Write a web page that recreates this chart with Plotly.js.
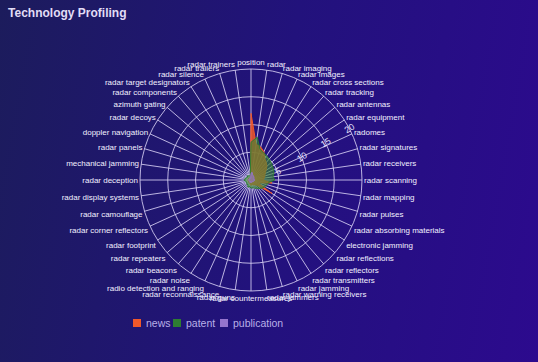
<!DOCTYPE html>
<html>
<head>
<meta charset="utf-8">
<script src="https://cdn.plot.ly/plotly-3.0.1.min.js"></script>
<style>
  html, body { margin: 0; padding: 0; }
  body { width: 538px; height: 362px; overflow: hidden;
         background: linear-gradient(100deg, #1c1c5c 0%, #22127c 50%, #2c0a8e 100%); }
  #chart { width: 538px; height: 362px; }
</style>
</head>
<body>
<div id="chart"></div>
<script>
const categories = [
  "position", "radar", "radar imaging", "radar images", "radar cross sections",
  "radar tracking", "radar antennas", "radar equipment", "radomes", "radar signatures",
  "radar receivers", "radar scanning", "radar mapping", "radar pulses",
  "radar absorbing materials", "electronic jamming", "radar reflections",
  "radar reflectors", "radar transmitters", "radar jamming", "radar warning receivers",
  "radar jammers", "radar countermeasures", "radar guns", "radar reconnaissance",
  "radio detection and ranging", "radar noise", "radar beacons", "radar repeaters",
  "radar footprint", "radar corner reflectors", "radar camouflage",
  "radar display systems", "radar deception", "mechanical jamming", "radar panels",
  "doppler navigation", "radar decoys", "azimuth gating", "radar components",
  "radar target designators", "radar silence", "radar trailers", "radar trainers"
];

const newsValues = [
  12, 6.5, 6.2, 5.6, 4.6, 4.2, 3.8, 3.2, 2.8, 2.6, 2.4, 2.2, 3.8, 1.8, 1.6, 4.5,
  1.4, 1.2, 1.0, 1.0, 0.8, 0.8, 1.0, 0.6, 0.7, 0.6, 0.5, 0.6, 0.5, 0.4, 0.5,
  0.4, 0.5, 0.6, 0.5, 0.5, 0.4, 0.5, 0.4, 0.5, 0.4, 0.4, 0.3, 0.4
];

const patentValues = [
  6.8, 7.8, 5.8, 5.4, 5.2, 5.0, 4.8, 4.6, 4.5, 4.3, 4.0, 4.3, 3.2, 3.0, 2.8, 2.6,
  2.3, 2.0, 1.8, 1.6, 1.5, 1.4, 1.5, 1.2, 1.3, 1.4, 1.0, 1.1, 1.0, 0.9, 1.0,
  0.9, 1.1, 1.3, 1.0, 1.1, 0.9, 0.9, 0.8, 1.0, 0.9, 0.8, 0.8, 0.9
];

const publicationValues = [
  1.2, 1.4, 1.0, 0.9, 0.8, 0.8, 0.7, 0.6, 0.6, 0.6, 0.5, 0.7, 0.6, 0.5, 0.5, 0.5,
  0.5, 0.4, 0.4, 0.4, 0.4, 0.4, 0.5, 0.3, 0.4, 0.5, 0.3, 0.4, 0.3, 0.3, 0.3,
  0.3, 0.4, 0.5, 0.4, 0.4, 0.3, 0.3, 0.3, 0.4, 0.3, 0.3, 0.3, 0.3
];

const seriesNames = ["news", "patent", "publication"];
const radialTicks = [5, 10, 15, 20];

const seriesColors = ["#f0582a", "#2e7d32", "#9575cd"];
const fillColors = ["rgba(240,88,42,0.85)", "rgba(58,138,50,0.6)", "rgba(149,117,205,0.6)"];
const seriesData = [newsValues, patentValues, publicationValues];

// closed polygons (radar-style areas)
const thetaClosed = categories.concat([categories[0]]);
const traces = seriesData.map((vals, i) => ({
  type: "scatterpolar",
  name: seriesNames[i],
  r: vals.concat([vals[0]]),
  theta: thetaClosed,
  mode: "lines",
  fill: "toself",
  fillcolor: fillColors[i],
  line: { color: seriesColors[i], width: 1 },
  showlegend: false,
  hoverinfo: "skip"
}));

// legend drawn as small squares + labels under the chart
// plot area: x 140..362, y 69..291 (222 px square)
const pxX = px => (px - 140) / 222;
const pxY = py => (291 - py) / 222;
const legendSquareX = [133, 173, 220];
const legendShapes = seriesNames.map((n, i) => ({
  type: "rect", xref: "paper", yref: "paper",
  x0: pxX(legendSquareX[i]), x1: pxX(legendSquareX[i] + 8),
  y0: pxY(327), y1: pxY(319),
  fillcolor: seriesColors[i], line: { width: 0 }
}));
const legendAnnotations = seriesNames.map((n, i) => ({
  text: n, xref: "paper", yref: "paper",
  x: pxX(legendSquareX[i] + 11), y: pxY(323),
  xanchor: "left", yanchor: "middle", showarrow: false,
  font: { size: 10.5, color: "#b8b0e8" }
}));

const gridCol = "rgba(215,208,245,0.85)";

const layout = {
  width: 538, height: 362,
  paper_bgcolor: "rgba(0,0,0,0)",
  plot_bgcolor: "rgba(0,0,0,0)",
  margin: { l: 140, r: 176, t: 69, b: 71 },
  title: { text: "Technology Profiling", x: 0.015, xanchor: "left", y: 0.965, yanchor: "middle",
           font: { family: "Liberation Sans, Arial, sans-serif", size: 12, color: "#e2ddf6", weight: "bold" } },
  font: { family: "Liberation Sans, Arial, sans-serif", color: "#f0eeff" },
  showlegend: false,
  shapes: legendShapes,
  annotations: legendAnnotations,
  polar: {
    bgcolor: "rgba(0,0,0,0)",
    domain: { x: [0, 1], y: [0, 1] },
    angularaxis: {
      type: "category", direction: "clockwise", rotation: 90,
      tickfont: { size: 8, color: "#f2f0ff" },
      gridcolor: gridCol, linecolor: gridCol, ticks: "", showline: true
    },
    radialaxis: {
      range: [0, 20], tickvals: radialTicks, angle: 31,
      tickfont: { size: 9, color: "#e8e4ff" },
      gridcolor: gridCol, showline: false, ticks: ""
    }
  }
};

Plotly.newPlot("chart", traces, layout, { displayModeBar: false, staticPlot: true });
</script>
</body>
</html>
